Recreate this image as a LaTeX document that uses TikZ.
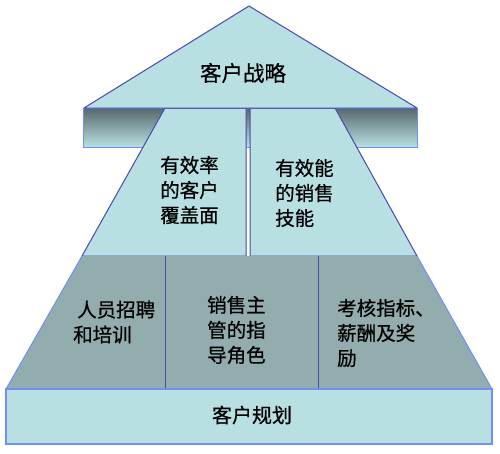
\documentclass[tikz,border=0pt]{standalone}
\usepackage{fontspec}
\newfontfamily\cjk[FakeBold=0.6]{Noto Sans CJK SC}
\definecolor{lb}{HTML}{B8E0E3}
\definecolor{gt}{HTML}{93ACAD}
\definecolor{edge}{HTML}{4848B0}
\definecolor{ledge}{HTML}{7090F5}
\definecolor{dk}{HTML}{56686A}
\begin{document}
\begin{tikzpicture}[x=1pt,y=-1pt,
  lbl/.style={font=\cjk\fontsize{19.5}{25}\selectfont, align=left, inner sep=0pt},
  ttl/.style={font=\cjk\fontsize{21.5}{25}\selectfont, inner sep=0pt},
  piece/.style={draw=edge, line width=1pt, fill=lb, line join=round}]
\useasboundingbox (0,0) rectangle (500,453);
% bar behind
\draw[ledge, line width=1pt, top color=dk, bottom color=lb] (83,108) rectangle (417,147);
% middle layer
\draw[piece] (165,108) -- (246,108) -- (246,256) -- (82,256) -- cycle;
\draw[piece] (250,108) -- (335,108) -- (417,256) -- (250,256) -- cycle;
% top triangle
\draw[piece] (249,6) -- (417,108) -- (84,108) -- cycle;
% bottom layer
\fill[gt] (82,256) -- (417,256) -- (492,389) -- (6,389) -- cycle;
\draw[ledge, line width=1pt] (82,256) -- (6,389);
\draw[ledge, line width=1pt] (417,256) -- (492,389);
\draw[edge, line width=1pt] (165,256) -- (165,389);
\draw[edge, line width=1pt] (318,256) -- (318,389);
% base
\draw[ledge, line width=1.3pt, fill=lb] (6,389) rectangle (492,444);
% texts
\node[ttl] (top) at (243,73) {客户战略};
\node[lbl, anchor=west] (m1) at (160,190) {有效率\\的客户\\覆盖面};
\node[lbl, anchor=west] (m2) at (275,193) {有效能\\的销售\\技能};
\node[lbl, anchor=west] (b1) at (73,322) {\hspace{4pt}人员招聘\\和培训};
\node[lbl, anchor=west] (b2) at (207,330) {销售主\\管的指\\导角色};
\node[lbl, anchor=west] (b3) at (337,333) {考核指标、\\薪酬及奖\\励};
\node[ttl, font=\cjk\fontsize{20}{25}\selectfont] (base) at (252,415) {客户规划};
\end{tikzpicture}
\end{document}
